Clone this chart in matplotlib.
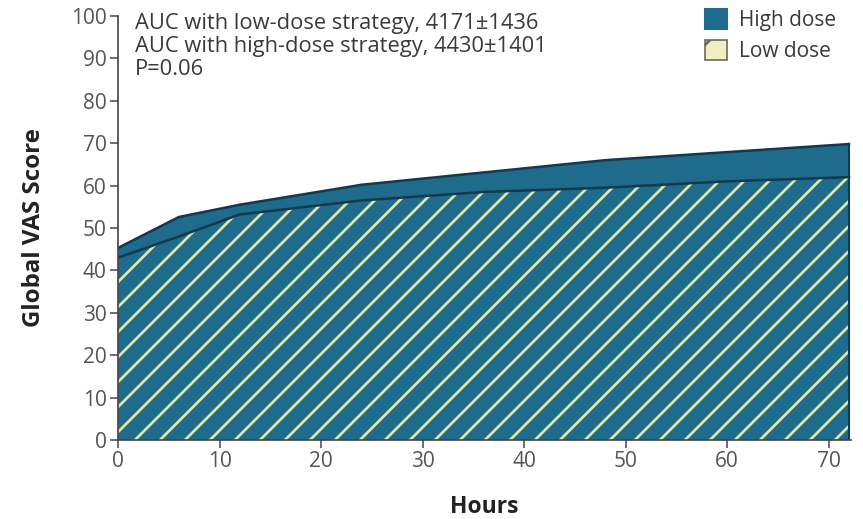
import matplotlib
matplotlib.use("Agg")
import matplotlib.pyplot as plt
from matplotlib.patches import Patch

# Mean global VAS score over time for each dosing strategy
hours = [0, 6, 12, 24, 36, 48, 60, 72]
high_dose = [45.3, 52.6, 55.5, 60.2, 63.1, 66.0, 67.9, 69.8]
low_dose = [43.0, 48.0, 53.2, 56.5, 58.5, 59.5, 61.0, 62.0]

x_ticks = [0, 10, 20, 30, 40, 50, 60, 70]
y_ticks = [0, 10, 20, 30, 40, 50, 60, 70, 80, 90, 100]

summary_lines = [
    "AUC with low-dose strategy, 4171\u00b11436",
    "AUC with high-dose strategy, 4430\u00b11401",
    "P=0.06",
]
series_names = ["High dose", "Low dose"]

TEAL = "#1f6b8b"
DARK = "#14384c"
STRIPE = "#e3e6a4"
TEXT = "#3a3a3a"

plt.rcParams["font.family"] = ["Open Sans", "DejaVu Sans"]
plt.rcParams["hatch.linewidth"] = 1.3

DPI = 150
fig = plt.figure(figsize=(863 / DPI, 519 / DPI), dpi=DPI)
ax = fig.add_axes([118 / 863, 1 - 440 / 519, (851 - 118) / 863, (440 - 16) / 519])

# High-dose area (solid)
ax.fill_between(hours, 0, high_dose, facecolor=TEAL, edgecolor="none", zorder=1)
ax.plot(hours, high_dose, color=DARK, lw=1.2, zorder=3, solid_joinstyle="miter")

# Low-dose area (hatched on the same teal)
ax.fill_between(hours, 0, low_dose, facecolor=TEAL, edgecolor=STRIPE,
                hatch="//", linewidth=0, zorder=2)
ax.plot(hours, low_dose, color=DARK, lw=1.2, zorder=3, solid_joinstyle="miter")

# Right edge of the filled region
ax.plot([hours[-1], hours[-1]], [0, high_dose[-1]], color=DARK, lw=1.0, zorder=3)

ax.set_xlim(0, 72.2)
ax.set_ylim(0, 100)
ax.set_xticks(x_ticks)
ax.set_yticks(y_ticks)
ax.tick_params(axis="both", direction="out", length=4, width=0.8,
               colors="#555555", labelsize=10, labelcolor="#555555", pad=1.5)

for side in ("top", "right"):
    ax.spines[side].set_visible(False)
for side in ("left", "bottom"):
    ax.spines[side].set_color("#444444")
    ax.spines[side].set_linewidth(0.8)
    ax.spines[side].set_zorder(4)

ax.set_xlabel("Hours", fontsize=11, fontweight="bold", color="#222222", labelpad=11)
ax.set_ylabel("Global VAS Score", fontsize=11.5, fontweight="bold", color="#222222",
              labelpad=12)

# Summary statistics
for i, line in enumerate(summary_lines):
    ax.text(0.023, 1.008 - i * 0.055, line, transform=ax.transAxes,
            fontsize=10.5, color=TEXT, va="top", ha="left")

# Legend
handles = [
    Patch(facecolor=TEAL, edgecolor=TEAL, label=series_names[0]),
    Patch(facecolor="#f1efc2", edgecolor="#6a6a5a", hatch="/", linewidth=0.8,
          label=series_names[1]),
]
leg = ax.legend(handles=handles, loc="upper right", bbox_to_anchor=(1.005, 1.06),
                frameon=False, fontsize=10, handlelength=1.05, handleheight=1.05,
                handletextpad=0.55, labelspacing=0.45, labelcolor=TEXT)

fig.savefig("out.png", dpi=DPI, facecolor="white")
